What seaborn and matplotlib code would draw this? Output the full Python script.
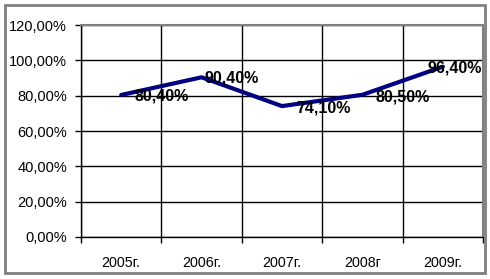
import matplotlib
matplotlib.use("Agg")
import matplotlib.pyplot as plt
import seaborn as sns
import pandas as pd
from matplotlib.patches import Rectangle
from matplotlib.ticker import FixedLocator, FuncFormatter

years = ["2005г.", "2006г.", "2007г.", "2008г", "2009г."]
values = [80.4, 90.4, 74.1, 80.5, 96.4]
labels = ["80,40%", "90,40%", "74,10%", "80,50%", "96,40%"]
yticks = [0, 20, 40, 60, 80, 100, 120]

sns.set_theme(style="white")
plt.rcParams['font.family'] = ['Liberation Sans', 'DejaVu Sans']

df = pd.DataFrame({"year": years, "value": values})

fig = plt.figure(figsize=(4.9, 2.79), dpi=100)
ax = fig.add_axes([81/490, 1 - 237/279, 402/490, 212/279])

sns.lineplot(data=df, x="year", y="value", ax=ax, color="#000080", linewidth=3, sort=False)

ax.set_xlim(-0.5, len(years) - 0.5)
ax.set_ylim(0, 120)
ax.set_yticks(yticks)
ax.yaxis.set_major_formatter(FuncFormatter(lambda v, p: f"{v:.2f}%".replace(".", ",")))
ax.set_xticks(range(len(years)))
ax.set_xticklabels(years)
ax.xaxis.set_minor_locator(FixedLocator([i + 0.5 for i in range(-1, len(years))]))
ax.set_xlabel("")
ax.set_ylabel("")

ax.grid(True, axis="y", which="major", color="black", linewidth=1)
ax.grid(True, axis="x", which="minor", color="black", linewidth=1)
ax.grid(False, axis="x", which="major")
ax.set_axisbelow(True)

ax.tick_params(axis="x", which="major", length=0, pad=14, labelsize=10.3, colors="black")
ax.tick_params(axis="x", which="minor", length=4, width=1, color="black", direction="out", bottom=True)
ax.tick_params(axis="y", which="major", length=4, width=1, color="black", direction="out", left=True, pad=6, labelsize=10.5, labelcolor="black")

for side in ["left", "bottom"]:
    ax.spines[side].set_color("black")
    ax.spines[side].set_linewidth(1)
for side in ["top", "right"]:
    ax.spines[side].set_color("#808080")
    ax.spines[side].set_linewidth(1.5)

offsets = [(13, -1.5), (3, -1), (14, -1.5), (13, -2), (-15, -1)]
for i, (v, lab) in enumerate(zip(values, labels)):
    dx, dy = offsets[i]
    ax.annotate(lab, (i, v), xytext=(dx * 0.72, dy * 0.72), textcoords="offset points",
                ha="left", va="center", fontsize=11.5, fontweight="bold", color="black")

fig.patches.append(Rectangle((5/490, 6/279), 480/490, 268/279, transform=fig.transFigure,
                             fill=False, edgecolor="#808080", linewidth=2))

fig.savefig("out.png", dpi=100)
